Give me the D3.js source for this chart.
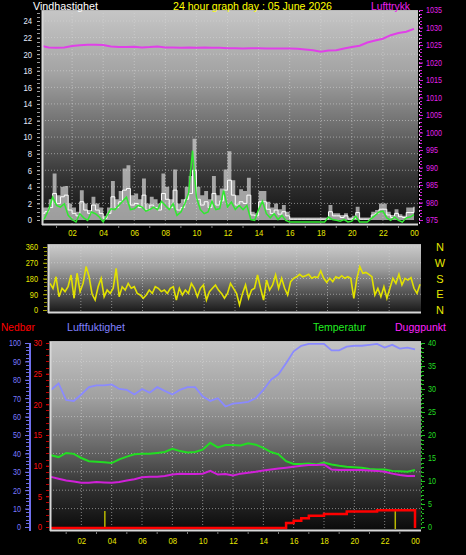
<!DOCTYPE html>
<html><head><meta charset="utf-8">
<script src="https://cdn.jsdelivr.net/npm/d3@7"></script>
<style>
html,body{margin:0;padding:0;background:#000;}
svg{display:block;}
text{font-family:"Liberation Sans",Arial,sans-serif;}
</style></head><body>
<svg id="c" width="466" height="555"></svg>
<script>
// ---------- DATA ----------
const hourTicks = ["02","04","06","08","10","12","14","16","18","20","22","00"];
const windStepH = 0.25;
const windGust = [
1.5,1.5,2.5,5.6, 3.0,4.0,4.1,2.0, 1.5,1.0,3.6,2.0, 1.2,2.8,2.0,1.5,
0.5,1.5,4.7,2.5, 3.5,6.2,6.6,3.0, 3.2,2.5,5.0,2.0, 2.8,2.5,2.0,5.6,
4.0,2.5,6.1,2.0, 2.5,4.0,5.3,9.8, 4.0,3.0,3.5,2.5, 5.3,3.0,3.8,6.1,
8.3,4.8,3.0,3.7, 3.5,5.1,1.0,0.8, 3.5,3.5,2.2,1.5, 2.0,1.3,1.8,1.0,
0.3,0.3,0.3,0.3, 0.3,0.3,0.3,0.3, 0.3,0.3,1.8,0.8, 0.8,0.6,0.8,0.3,
0.5,1.6,0.3,0.3, 0.3,1.0,1.2,2.0, 2.0,1.0,0.6,1.3, 0.7,0.5,1.5,1.5, 2.8];
const windSpeed = [
0.8,1.0,1.5,3.2, 2.0,2.8,3.0,1.2, 0.8,0.5,2.2,1.2, 0.8,1.8,1.2,0.8,
0.2,0.8,2.8,1.5, 2.2,3.6,3.8,1.8, 2.0,1.5,3.0,1.2, 1.8,1.5,1.2,3.2,
2.5,1.5,3.6,1.2, 1.5,2.5,3.2,6.0, 2.5,1.8,2.2,1.5, 3.2,1.8,2.3,3.6,
4.8,3.0,1.8,2.2, 2.0,3.0,0.6,0.5, 2.2,2.2,1.3,0.8, 1.2,0.7,1.0,0.5,
0.1,0.1,0.1,0.1, 0.1,0.1,0.1,0.1, 0.1,0.1,1.0,0.5, 0.5,0.3,0.5,0.1,
0.2,0.9,0.1,0.1, 0.1,0.6,0.8,1.3, 1.3,0.6,0.3,0.8, 0.4,0.3,0.9,0.9, 1.6];
const windAvg = [
0.0,0.5,1.5,3.0, 2.0,1.8,2.2,0.8, 0.3,0.0,1.0,0.5, 0.2,1.2,1.0,0.6,
0.0,0.8,1.6,1.5, 2.0,2.5,3.0,1.5, 1.6,2.0,1.8,1.3, 1.5,1.8,1.5,2.5,
2.0,1.5,2.2,0.8, 1.2,2.2,3.5,8.6, 3.0,1.5,1.0,1.2, 2.5,1.5,1.6,3.8,
1.8,2.4,1.5,2.0, 1.5,2.0,0.3,0.2, 1.5,2.5,1.0,0.5, 1.0,0.3,0.8,0.2,
0,0,0,0, 0,0,0,0, 0,0,0.6,0.3, 0.2,0.1,0.3,0.0,
0.1,0.7,0.0,0.0, 0.0,0.4,0.8,1.2, 1.3,0.5,0.2,0.6, 0.2,0.0,0.5,0.6, 0.9];
const halfHourStep = 0.5;
const pressure = [
1024.8,1024.3,1024.2,1024.3,1024.7,1024.9,1025.1,1025.1,1025.0,1024.6,
1024.4,1024.4,1024.5,1024.3,1024.4,1024.6,1024.3,1024.3,1024.2,1024.3,
1024.2,1024.3,1024.2,1024.2,1024.1,1024.1,1024.0,1024.1,1024.1,1024.0,
1024.0,1024.0,1024.0,1023.9,1023.7,1023.5,1023.1,1023.4,1023.5,1024.0,
1024.4,1024.8,1025.7,1026.3,1026.8,1027.8,1028.4,1028.8,1029.6];
const windDir = [
152,123,190,76,124,105,133,200,67,210,105,152,248,190,90,57,133,181,76,114,
95,124,238,76,133,114,152,124,133,95,86,67,86,114,95,133,124,105,114,95,
124,133,57,124,86,114,95,152,124,76,124,143,57,105,124,143,114,95,67,95,152,124,
95,29,95,143,67,114,124,200,124,57,171,114,143,200,124,181,124,86,162,181,
190,204,190,196,204,181,190,185,223,181,158,181,162,190,181,196,181,190,181,67,
181,248,210,215,204,190,86,124,76,133,67,124,181,152,204,143,181,171,185,124,95,147];
const humidity = [
74.5,78,69,68.5,72,76,77,77,77.5,75,74.5,72,75,73,76,74,72,74.5,76,76,
71,68.5,70,65.5,67,67.5,68,70,74.5,80,83,89,95.5,98.5,99.5,99.5,99.5,96,96,98,
98.5,98.5,99,99.5,97.5,99,97,97.5,96.5];
const temperature = [
15.6,15.2,16.1,15.9,15.0,14.3,14.2,14.1,13.9,14.7,15.3,15.8,15.9,15.9,16.1,16.3,
17.0,16.5,16.2,16.3,16.8,18.3,17.3,17.8,17.8,17.7,18.2,17.9,17.2,16.3,15.8,14.3,
13.7,13.7,13.8,13.6,14.0,13.6,13.3,13.1,13.0,12.9,12.6,12.5,12.5,12.2,12.1,12.0,12.4];
const dewPoint = [
10.9,10.5,10.1,9.9,9.6,9.6,9.8,9.7,9.6,9.8,10.1,10.4,10.8,10.9,10.9,11.1,
11.4,11.6,11.5,11.5,11.6,12.2,11.4,11.5,11.2,11.6,11.8,12.0,12.3,12.5,12.7,12.9,
13.1,13.3,13.5,13.5,13.6,12.5,12.4,12.4,12.4,12.4,12.3,12.2,12.0,11.6,11.3,11.1,11.1];
const rainTotal = [
0,0,0,0,0,0,0,0,0,0,0,0,0,0,0,0,0,0,0,0,0,0,0,0,0,0,0,0,0,0,0,
0.8,1.2,1.6,2.0,2.0,2.3,2.3,2.3,2.7,2.7,2.7,2.7,2.9,2.9,2.9,2.9,2.9,0];
const rainRateHours = [3.55, 22.7];
const rainRate = [2.6, 2.6];
const windTicks = [0,2,4,6,8,10,12,14,16,18,20,22,24];
const pressureTicks = [975,980,985,990,995,1000,1005,1010,1015,1020,1025,1030,1035];
const dirTicks = [0,90,180,270,360];
const dirLetters = ["N","E","S","W","N"];
const humTicks = [0,10,20,30,40,50,60,70,80,90,100];
const rainTicks = [0,5,10,15,20,25,30];
const tempTicks = [0,5,10,15,20,25,30,35,40];

// ---------- SETUP ----------
const svg = d3.select("#c");
svg.append("rect").attr("width",466).attr("height",555).attr("fill","#000");
const defs = svg.append("defs");
function grad(id, stops){
  const g = defs.append("linearGradient").attr("id",id).attr("x1",0).attr("y1",0).attr("x2",0).attr("y2",1);
  stops.forEach(s=>g.append("stop").attr("offset",s[0]).attr("stop-color",s[1]));
}
grad("g1",[[0,"#c6c6c6"],[0.3,"#a2a2a2"],[0.55,"#6c6c6c"],[0.78,"#343434"],[1,"#0e0e0e"]]);
grad("g2",[[0,"#cccccc"],[0.35,"#a0a0a0"],[0.6,"#6a6a6a"],[1,"#161616"]]);
grad("g3",[[0,"#c4c4c4"],[0.3,"#a0a0a0"],[0.55,"#6a6a6a"],[0.78,"#303030"],[1,"#0a0a0a"]]);

const P1 = {l:42,t:10,r:418,b:225};
const P2 = {l:48,t:244,r:421,b:313};
const P3 = {l:50,t:341,r:421,b:531};
[[P1,"g1","c1"],[P2,"g2","c2"],[P3,"g3","c3"]].forEach(([p,g,c])=>{
  svg.append("rect").attr("x",p.l).attr("y",p.t).attr("width",p.r-p.l).attr("height",p.b-p.t).attr("fill",`url(#${g})`);
  defs.append("clipPath").attr("id",c).append("rect").attr("x",p.l).attr("y",p.t).attr("width",p.r-p.l).attr("height",p.b-p.t);
});

const x1 = d3.scaleLinear([0,24],[41,414]);
const yWind = d3.scaleLinear([0,24],[220,21]);
const yPres = d3.scaleLinear([975,1035],[220,10]);
const x2 = d3.scaleLinear([0,24],[50,420]);
const yDir = d3.scaleLinear([0,360],[310,247]);
const x3 = d3.scaleLinear([0,24],[51,415]);
const yHum = d3.scaleLinear([0,100],[527,343]);
const yRain = d3.scaleLinear([0,30],[527,343]);
const yTemp = d3.scaleLinear([0,40],[527,343]);

const hourVals = hourTicks.map((t,i)=>(i+1)*2);

// grid
function grid(p, xs, xVals, ys, yVals){
  const g = svg.append("g").attr("stroke","#d8d8d8").attr("stroke-opacity",0.55).attr("stroke-dasharray","1,2");
  xVals.forEach(v=>{ if(v<24) g.append("line").attr("x1",xs(v)).attr("x2",xs(v)).attr("y1",p.t).attr("y2",p.b); });
  yVals.forEach(v=>g.append("line").attr("x1",p.l).attr("x2",p.r).attr("y1",ys(v)).attr("y2",ys(v)));
}
grid(P1,x1,hourVals,yWind,windTicks.slice(1));
grid(P2,x2,hourVals,yDir,[90,180,270,360]);
grid(P3,x3,hourVals,yHum,humTicks.slice(1,10));

// ---------- TOP PANEL ----------
const g1 = svg.append("g").attr("clip-path","url(#c1)");
const wIdx = windGust.map((d,i)=>i);
g1.append("path").datum(wIdx)
  .attr("d", d3.area().curve(d3.curveStepAfter).x(i=>x1(i*windStepH)).y0(yWind(0)).y1(i=>yWind(windGust[i])))
  .attr("fill","#d4d4d4").attr("fill-opacity",0.72);
g1.append("path").datum(wIdx)
  .attr("d", d3.line().curve(d3.curveStepAfter).x(i=>x1(i*windStepH)).y(i=>yWind(windSpeed[i])))
  .attr("fill","none").attr("stroke","#ffffff").attr("stroke-width",1);
g1.append("path").datum(wIdx)
  .attr("d", d3.line().x(i=>x1(i*windStepH)).y(i=>yWind(windAvg[i])+2))
  .attr("fill","none").attr("stroke","#30e830").attr("stroke-width",1.5);
g1.append("path").datum(pressure.map((d,i)=>i))
  .attr("d", d3.line().x(i=>x1(i*halfHourStep)).y(i=>yPres(pressure[i])))
  .attr("fill","none").attr("stroke","#e040e8").attr("stroke-width",2);

// ---------- MIDDLE PANEL ----------
const g2 = svg.append("g").attr("clip-path","url(#c2)");
const dirStep = 24/(windDir.length-1);
g2.append("path").datum(windDir.map((d,i)=>i))
  .attr("d", d3.line().x(i=>x2(i*dirStep)).y(i=>yDir(windDir[i])))
  .attr("fill","none").attr("stroke","#e2e200").attr("stroke-width",1.6);

// ---------- BOTTOM PANEL ----------
const g3 = svg.append("g").attr("clip-path","url(#c3)");
const hIdx = humidity.map((d,i)=>i);
g3.append("path").datum(hIdx)
  .attr("d", d3.line().x(i=>x3(i*halfHourStep)).y(i=>yHum(humidity[i])))
  .attr("fill","none").attr("stroke","#8a8aff").attr("stroke-width",1.8);
g3.append("path").datum(hIdx)
  .attr("d", d3.line().x(i=>x3(i*halfHourStep)).y(i=>yTemp(temperature[i])))
  .attr("fill","none").attr("stroke","#22dd22").attr("stroke-width",2);
g3.append("path").datum(hIdx)
  .attr("d", d3.line().x(i=>x3(i*halfHourStep)).y(i=>yTemp(dewPoint[i])))
  .attr("fill","none").attr("stroke","#d020d8").attr("stroke-width",2);
rainRateHours.forEach((h,i)=>{
  g3.append("line").attr("x1",x3(h)).attr("x2",x3(h)).attr("y1",yRain(0)+2).attr("y2",yRain(rainRate[i]))
    .attr("stroke","#b8b800").attr("stroke-width",1.5);
});
g3.append("path").datum(hIdx)
  .attr("d", d3.line().curve(d3.curveStepAfter).x(i=>x3(i*halfHourStep)).y(i=>yRain(rainTotal[i])+1))
  .attr("fill","none").attr("stroke","#ff0000").attr("stroke-width",2.5);

// ---------- BORDERS ----------
function borders(p){
  const g = svg.append("g").attr("stroke","#d8d8d8");
  g.append("line").attr("x1",p.l+0.5).attr("x2",p.l+0.5).attr("y1",p.t).attr("y2",p.b).attr("stroke-width",2);
  g.append("line").attr("x1",p.l).attr("x2",p.r).attr("y1",p.b-0.5).attr("y2",p.b-0.5).attr("stroke-width",2);
  g.append("line").attr("x1",p.l).attr("x2",p.r).attr("y1",p.t+0.5).attr("y2",p.t+0.5).attr("stroke-width",1).attr("stroke","#b8b8b8");
}
borders(P1); borders(P2); borders(P3);

// ---------- AXES ----------
function squeeze(sel, per){
  sel.selectAll("text").each(function(){
    const t = d3.select(this); const s = t.text();
    t.attr("textLength", s.length*per).attr("lengthAdjust","spacingAndGlyphs");
  });
}
function styleAxis(g, tickColor, textColor, size){
  g.select(".domain").remove();
  g.selectAll("line").attr("stroke",tickColor);
  g.selectAll("text").attr("fill",textColor).attr("font-size",size)
    .attr("font-family","'Liberation Sans',Arial,sans-serif");
}
function minor(x, scale, vals, len, color, side){
  const g = svg.append("g").attr("stroke",color);
  vals.forEach(v=>g.append("line").attr("x1",x).attr("x2",x+side*len).attr("y1",Math.round(scale(v))+0.5).attr("y2",Math.round(scale(v))+0.5));
}
const fmt = d3.format("d");

// wind left
minor(40, yWind, d3.range(0,25.01,0.5), 3, "#9a9a9a", -1);
let a = svg.append("g").attr("transform","translate(40,0)").call(d3.axisLeft(yWind).tickValues(windTicks).tickFormat(fmt).tickSize(3).tickPadding(5));
styleAxis(a,"#b0b0b0","#e4ecff","9px"); squeeze(a,4.3);
// pressure right
svg.append("line").attr("x1",419.5).attr("x2",419.5).attr("y1",P1.t).attr("y2",P1.b).attr("stroke","#e8c8e8").attr("stroke-dasharray","2,2");
minor(420, yPres, d3.range(975,1035.1,1), 2, "#d020d8", 1);
a = svg.append("g").attr("transform","translate(419,0)").call(d3.axisRight(yPres).tickValues(pressureTicks).tickFormat(fmt).tickSize(4).tickPadding(3));
styleAxis(a,"#d020d8","#e020e8","9px"); squeeze(a,4.0);
// top x labels
a = svg.append("g").attr("transform",`translate(0,${P1.b})`).call(d3.axisBottom(x1).tickValues(hourVals).tickFormat((d,i)=>hourTicks[i]).tickSize(0).tickPadding(5));
styleAxis(a,"#000","#e8e800","9px"); squeeze(a,4.3);
svg.append("g").attr("stroke","#7a7a7a").selectAll("line").data(d3.range(1,24,2)).join("line")
  .attr("x1",d=>x1(d)).attr("x2",d=>x1(d)).attr("y1",P1.b+1).attr("y2",P1.b+3);

// direction left
minor(47, yDir, d3.range(0,360.1,22.5), 3, "#8a8a00", -1);
a = svg.append("g").attr("transform","translate(47,0)").call(d3.axisLeft(yDir).tickValues(dirTicks).tickFormat(fmt).tickSize(4).tickPadding(5));
styleAxis(a,"#a8a800","#e6e600","9px"); squeeze(a,4.1);
svg.append("g").selectAll("text").data(dirLetters).join("text")
  .attr("x",440).attr("y",(d,i)=>yDir(dirTicks[i])+4).attr("text-anchor","middle")
  .attr("fill","#e8e800").attr("font-size","11px").text(d=>d);

// humidity left (blue)
svg.append("line").attr("x1",30).attr("x2",30).attr("y1",343).attr("y2",P3.b).attr("stroke","#7070ee").attr("stroke-width",2);
minor(29, yHum, d3.range(0,100.1,2), 3, "#6a6ae0", -1);
a = svg.append("g").attr("transform","translate(29,0)").call(d3.axisLeft(yHum).tickValues(humTicks).tickFormat(fmt).tickSize(4).tickPadding(4));
styleAxis(a,"#7070ee","#7a7aff","9px"); squeeze(a,4.0);
// rain left (red)
minor(49, yRain, d3.range(0,30.1,1), 3, "#c00000", -1);
a = svg.append("g").attr("transform","translate(49,0)").call(d3.axisLeft(yRain).tickValues(rainTicks).tickFormat(fmt).tickSize(3).tickPadding(4));
styleAxis(a,"#d00000","#ff1010","9px"); squeeze(a,4.3);
// temp right (green)
svg.append("line").attr("x1",421.5).attr("x2",421.5).attr("y1",343).attr("y2",P3.b).attr("stroke","#20b020").attr("stroke-dasharray","2,2");
minor(422, yTemp, d3.range(0,40.1,1), 2, "#20c020", 1);
a = svg.append("g").attr("transform","translate(421,0)").call(d3.axisRight(yTemp).tickValues(tempTicks).tickFormat(fmt).tickSize(4).tickPadding(3));
styleAxis(a,"#20c020","#22dd22","9px"); squeeze(a,4.0);
// bottom x labels
a = svg.append("g").attr("transform",`translate(0,${P3.b})`).call(d3.axisBottom(x3).tickValues(hourVals).tickFormat((d,i)=>hourTicks[i]).tickSize(0).tickPadding(7));
styleAxis(a,"#000","#e8e800","9px"); squeeze(a,4.3);
svg.append("g").attr("stroke","#7a7a7a").selectAll("line").data(d3.range(1,24,2)).join("line")
  .attr("x1",d=>x3(d)).attr("x2",d=>x3(d)).attr("y1",P3.b+1).attr("y2",P3.b+3);

// ---------- TITLES ----------
const titles = [
  ["Vindhastighet",33,10,65,"#ffffff"],
  ["24 hour graph day : 05 June 2026",173,10,159,"#ffff00"],
  ["Lufttrykk",371,10,39,"#ee22ee"],
  ["Nedbør",1,331,34,"#ff0000"],
  ["Luftfuktighet",67,331,58,"#8080ff"],
  ["Temperatur",313,331,53,"#22ee22"],
  ["Duggpunkt",395,331,51,"#ff22ff"]
];
svg.append("g").selectAll("text").data(titles).join("text")
  .attr("x",d=>d[1]).attr("y",d=>d[2]).attr("fill",d=>d[4]).attr("font-size","11.5px")
  .attr("textLength",d=>d[3]).attr("lengthAdjust","spacingAndGlyphs").text(d=>d[0]);
</script>
</body></html>
